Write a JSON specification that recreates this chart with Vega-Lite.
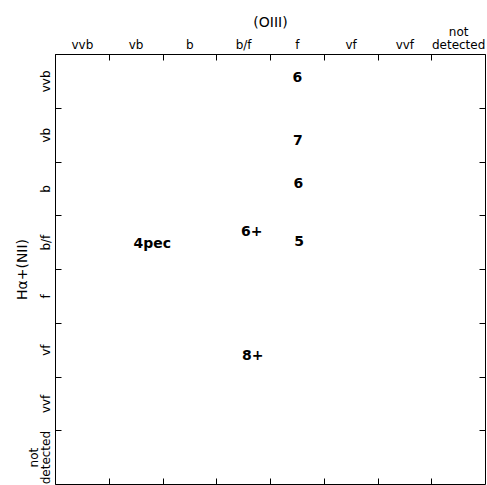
{
  "$schema": "https://vega.github.io/schema/vega-lite/v6.json",
  "width": 430,
  "height": 430,
  "autosize": {"type": "none"},
  "padding": {"left": 55, "top": 54, "right": 2, "bottom": 1},
  "background": "white",
  "config": {
    "view": {"stroke": null},
    "axis": {
      "domainColor": "black",
      "domainWidth": 1,
      "tickColor": "black",
      "tickWidth": 1,
      "labelColor": "black",
      "titleColor": "black",
      "labelFont": "DejaVu Sans",
      "titleFont": "DejaVu Sans",
      "grid": false,
      "labelFontSize": 12,
      "titleFontSize": 14,
      "titleFontWeight": "normal",
      "tickSize": -6,
      "labelOverlap": false,
      "labelFlush": false,
      "labelBound": false
    }
  },
  "data": {
    "values": [
      {"x": 4.51, "y": 0.45, "label": "6"},
      {"x": 4.52, "y": 1.62, "label": "7"},
      {"x": 4.53, "y": 2.42, "label": "6"},
      {"x": 4.54, "y": 3.5, "label": "5"},
      {"x": 3.66, "y": 3.31, "label": "6+"},
      {"x": 1.81, "y": 3.53, "label": "4pec"},
      {"x": 3.68, "y": 5.62, "label": "8+"}
    ]
  },
  "layer": [
    {
      "mark": {"type": "text", "font": "DejaVu Sans", "fontWeight": "bold", "fontSize": 14, "align": "center", "baseline": "middle", "color": "black"},
      "encoding": {
        "x": {
          "field": "x", "type": "quantitative",
          "scale": {"domain": [0, 8], "nice": false, "zero": false},
          "axis": {
            "orient": "top", "title": "(OIII)",
            "values": [0, 1, 2, 3, 4, 5, 6, 7, 8],
            "labelExpr": "datum.value == 7 ? ['detected', 'not'] : ['vvb','vb','b','b/f','f','vf','vvf','',''][datum.value]",
            "labelOffset": 26.875, "labelPadding": 9, "labelAngle": 0,
            "labelAlign": "center", "labelBaseline": "bottom", "labelLineHeight": -13,
            "titlePadding": 8
          }
        },
        "y": {
          "field": "y", "type": "quantitative",
          "scale": {"domain": [0, 8], "nice": false, "zero": false, "reverse": true},
          "axis": {
            "orient": "left", "title": "Hα+(NII)",
            "values": [0, 1, 2, 3, 4, 5, 6, 7, 8],
            "labelExpr": "datum.value == 7 ? ['detected', 'not'] : ['vvb','vb','b','b/f','f','vf','vvf','',''][datum.value]",
            "labelOffset": 26.875, "labelPadding": 9, "labelAngle": 270,
            "labelAlign": "center", "labelBaseline": "bottom", "labelLineHeight": -12,
            "titlePadding": 10
          }
        },
        "text": {"field": "label"}
      }
    },
    {
      "mark": {"type": "point", "opacity": 0},
      "encoding": {
        "x": {
          "field": "x", "type": "quantitative",
          "axis": {"orient": "bottom", "labels": false, "title": null, "values": [1, 2, 3, 4, 5, 6, 7]}
        },
        "y": {
          "field": "y", "type": "quantitative",
          "axis": {"orient": "right", "labels": false, "title": null, "values": [1, 2, 3, 4, 5, 6, 7]}
        }
      }
    }
  ],
  "resolve": {"axis": {"x": "independent", "y": "independent"}}
}
